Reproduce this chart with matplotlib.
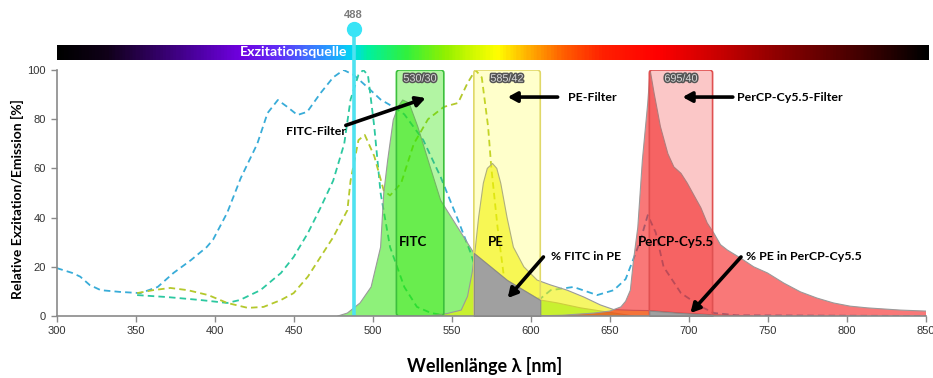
import matplotlib
matplotlib.use('Agg')
import matplotlib.pyplot as plt
import matplotlib.patheffects as pe
from matplotlib.patches import FancyBboxPatch
from matplotlib.colors import LinearSegmentedColormap
import numpy as np

# ---------------------------------------------------------------------------
# Spectra, wavelength in nm, value in %
# ---------------------------------------------------------------------------
percp_ex_wl = [300, 310, 315, 321, 328, 340, 353, 364, 374, 385, 395, 399, 408,
               416.5, 427, 433.5, 440, 446, 452.4, 458.6, 467, 475, 481.6, 488,
               496.7, 505, 513, 520, 532, 543, 554, 562, 566, 575, 587, 606,
               612.6, 627, 642, 652.5, 660, 663, 669, 674, 679, 684, 695, 708,
               716, 730, 850]
percp_ex = [19.5, 17.5, 16, 12.6, 10.5, 9.8, 9.3, 11.8, 17.5, 22.7, 28, 31, 42,
            56, 70, 82.5, 87.8, 85, 81.7, 83, 90.6, 97, 100, 98,
            93, 88, 85, 82, 71.5, 56.5, 39, 25.6, 17.5, 11.8, 9.3, 7,
            10.5, 11.8, 8.5, 10.5, 15, 20, 30, 41, 34, 20, 9.3, 3.7,
            1.2, 0.3, 0]

fitc_ex_wl = [351, 370, 391, 408, 416, 429, 442, 450, 459, 467, 475, 482, 486,
              491, 494, 497, 501, 505, 511, 520, 528, 537, 545, 555]
fitc_ex = [8.5, 7.7, 6.5, 5.3, 6.5, 10.5, 17.5, 24, 33.7, 44, 55, 70, 88,
           98, 100, 98, 77, 50, 28, 11.8, 3.7, 1.2, 0.3, 0]

pe_ex_wl = [351, 361, 372, 383, 396, 408, 421, 431, 442, 450, 459, 467, 475,
            484, 486, 491, 495, 501, 507, 511, 518, 526, 535, 545, 554, 560,
            565, 569, 573, 575, 579, 583, 587, 596, 610]
pe_ex = [9.3, 10.5, 11.4, 10.5, 8.5, 5.3, 3.3, 3.7, 6.5, 9.3, 16, 24, 32,
         43, 55, 71.5, 73.6, 65, 51, 49, 54, 70, 80, 85, 86.6, 94.7,
         100, 97, 77, 60.6, 36, 16, 6.5, 1.2, 0]

fitc_em_wl = [478, 484, 492, 499, 505, 507, 509.5, 513, 516, 519, 523, 528.5,
              535, 543, 553.8, 564, 574.7, 585, 595.6, 606, 617, 631.5, 648.7,
              665]
fitc_em = [0, 1.2, 5.3, 11.8, 28, 50, 63.4, 79.7, 85, 87.8, 86.6, 77,
           63.4, 47, 36, 25.6, 20, 14.6, 10.5, 6.5, 5.3, 3.3, 1.6,
           0]

pe_em_wl = [535, 547, 556, 560, 563, 565, 567, 570, 572.5, 575.8, 578.5, 581,
            585, 589, 595.6, 604, 612.6, 623, 633.6, 644, 652.5, 665, 675,
            695, 715, 740]
pe_em = [0, 1, 2.4, 8, 18, 28, 40, 54, 60, 62, 60, 54,
         40, 28, 20, 14.6, 12.6, 10.5, 7.7, 4.5, 2.6, 2.3, 2.2,
         1.2, 0.5, 0]

percp_em_wl = [600, 620, 640, 650, 657, 660, 663, 665, 667.7, 670.6, 674,
               675.5, 678, 682, 686.7, 690.5, 695, 699, 705, 707.6, 711.6,
               715.8, 720, 724.4, 732.6, 741, 749.7, 760, 770.6, 781, 791.5,
               802, 813, 834, 850]
percp_em = [0, 0.3, 1.2, 2, 3.7, 6, 10.5, 22.7, 36, 63.4, 86.6,
            100, 90.6, 77, 66, 60.6, 58, 54, 47, 44, 37.8,
            33.7, 29, 26.8, 23.6, 20, 17.5, 13.4, 9.8, 7.3, 5.3,
            4, 3.3, 2.4, 2]

# filters: (centre, bandwidth)
filter_names = ['530/30', '585/42', '695/40']
filter_center = [530, 585, 695]
filter_width = [30, 42, 40]

laser_nm = 488

# spectrum bar colour stops
bar_wl = [300, 330, 360, 390, 415, 440, 458, 475, 486, 496, 520, 545, 560,
          578, 598, 620, 645, 680, 725, 765, 810, 851]
bar_col = ['#000000', '#100018', '#300060', '#5000a8', '#7000e0', '#6030f8',
           '#4070ff', '#20a8ff', '#00d8f0', '#00f0a0', '#30f040', '#90f000',
           '#c8f800', '#ffff00', '#ffb000', '#ff6000', '#ff2000', '#ff0000',
           '#c00000', '#800000', '#400000', '#000000']

# ---------------------------------------------------------------------------
W, H = 933, 378
x0_px, y0_px = 56.5, 316       # pixel of (300 nm, 0 %)
px_per_nm = 869.5 / 550
px_per_pct = 246 / 100

bold = ['Lato', 'DejaVu Sans']
plain = ['Liberation Sans', 'DejaVu Sans']

fig = plt.figure(figsize=(W / 100, H / 100), dpi=100)
ax = fig.add_axes([x0_px / W, (H - y0_px) / H, 869.5 / W, 246 / H])
cax = fig.add_axes([x0_px / W, (H - 60) / H, 551 * px_per_nm / W, 15 / H])

# spectrum bar ------------------------------------------------------------
stops = [(w - bar_wl[0]) / (bar_wl[-1] - bar_wl[0]) for w in bar_wl]
cmap = LinearSegmentedColormap.from_list('spec', list(zip(stops, bar_col)))
cax.imshow(np.linspace(0, 1, 600)[None, :], aspect='auto', cmap=cmap,
           extent=[bar_wl[0], bar_wl[-1], 0, 1])
cax.set_xlim(bar_wl[0], bar_wl[-1])
cax.set_axis_off()
cax.text(450, 0.5, 'Exzitationsquelle', color='white', fontsize=10.2,
         fontweight='bold', family=bold, ha='center', va='center')
cax.set_zorder(0)
ax.set_zorder(1)
ax.patch.set_visible(False)

# excitation spectra (dashed) ----------------------------------------------
dash = (0, (3.6, 2.3))
ax.plot(percp_ex_wl, percp_ex, color='#38acd8', lw=1.3, ls=dash, zorder=1)
ax.plot(fitc_ex_wl, fitc_ex, color='#2cc8a0', lw=1.3, ls=dash, zorder=1)
ax.plot(pe_ex_wl, pe_ex, color='#b4c82c', lw=1.3, ls=dash, zorder=1)

# emission spectra (filled) ------------------------------------------------
ax.fill_between(fitc_em_wl, fitc_em, color='#32e70d', alpha=0.55,
                edgecolor='none', zorder=2)
ax.plot(fitc_em_wl, fitc_em, color='#9a9a9a', lw=0.8, zorder=2)
ax.fill_between(pe_em_wl, pe_em, color='#f0f000', alpha=0.6,
                edgecolor='none', zorder=2)
ax.plot(pe_em_wl, pe_em, color='#9a9a9a', lw=0.8, zorder=2)
ax.fill_between(percp_em_wl, percp_em, color='#f51e1e', alpha=0.6,
                edgecolor='none', zorder=2)
ax.plot(percp_em_wl, percp_em, color='#9a9a9a', lw=0.8, zorder=2)

# filters --------------------------------------------------------------------
filt_face = ['#2ae600', '#ffff14', '#f02828']
filt_alpha = [0.36, 0.22, 0.26]
filt_edge = ['#3cc03c', '#e0d868', '#e05050']
for name, c, w, fc, fa, ec in zip(filter_names, filter_center, filter_width,
                                  filt_face, filt_alpha, filt_edge):
    lo = c - w / 2
    box = FancyBboxPatch((lo, 0), w, 100,
                         boxstyle='round,pad=0,rounding_size=1.9',
                         mutation_aspect=px_per_nm / px_per_pct,
                         facecolor=fc, alpha=fa, edgecolor='none', zorder=3)
    ax.add_patch(box)
    edge = FancyBboxPatch((lo, 0), w, 100,
                          boxstyle='round,pad=0,rounding_size=1.9',
                          mutation_aspect=px_per_nm / px_per_pct,
                          facecolor='none', edgecolor=ec, lw=1.2, zorder=3)
    ax.add_patch(edge)
    ax.text(c, 96.5, name, fontsize=7.8, family=plain, color='#d8d8d8',
            ha='center', va='center', zorder=6,
            path_effects=[pe.withStroke(linewidth=2.2, foreground='#555555')])

# spill-over areas (grey) ------------------------------------------------------
fw = np.array(fitc_em_wl)
fm = (fw >= 564) & (fw <= 606)
ax.fill_between(fw[fm], np.array(fitc_em)[fm], color='#a0a0a0',
                edgecolor='#8a8a8a', lw=0.8, zorder=4)
pw = np.array(pe_em_wl)
pm = (pw >= 675) & (pw <= 715)
ax.fill_between(pw[pm], np.array(pe_em)[pm], color='#a0a0a0',
                edgecolor='#8a8a8a', lw=0.8, zorder=4)

# laser line -----------------------------------------------------------------
ax.plot([laser_nm, laser_nm], [0, 116.5], color='#4fe2f0', lw=2.6,
        clip_on=False, zorder=5, solid_capstyle='butt')
ax.plot([laser_nm], [116.5], 'o', ms=10, color='#38e4f6', clip_on=False,
        zorder=5)
ax.text(laser_nm, 122.5, str(laser_nm), fontsize=8, fontweight='bold',
        family=plain, color='#7a7a7a', ha='center', va='center')

# labels and arrows ----------------------------------------------------------
arrow = dict(arrowstyle='-|>,head_length=0.55,head_width=0.3', lw=2.6,
             color='black', shrinkA=0, shrinkB=0)
tkw = dict(fontsize=8.9, fontweight='bold', family=bold, color='black',
           va='center', ha='left', zorder=7)

ax.text(445, 75.2, 'FITC-Filter', **tkw)
ax.annotate('', xy=(533.5, 88.6), xytext=(483, 77.5), arrowprops=arrow,
            zorder=7)
ax.text(623.4, 89, 'PE-Filter', **tkw)
ax.annotate('', xy=(585.4, 89), xytext=(617, 89), arrowprops=arrow, zorder=7)
ax.text(730.4, 89, 'PerCP-Cy5.5-Filter', **tkw)
ax.annotate('', xy=(696, 89), xytext=(727.8, 89), arrowprops=arrow, zorder=7)
ax.text(612.7, 24, '% FITC in PE', **tkw)
ax.annotate('', xy=(585.4, 7.3), xytext=(608, 24), arrowprops=arrow, zorder=7)
ax.text(736, 24, '% PE in PerCP-Cy5.5', **tkw)
ax.annotate('', xy=(701, 1.2), xytext=(733, 24), arrowprops=arrow, zorder=7)

ax.text(516.5, 30, 'FITC', **dict(tkw, fontsize=9.5))
ax.text(572.8, 30, 'PE', **dict(tkw, fontsize=9.5))
ax.text(667.7, 30, 'PerCP-Cy5.5', **dict(tkw, fontsize=9.5))

# axes -----------------------------------------------------------------------
ax.set_xlim(300, 850)
ax.set_ylim(0, 100)
ax.set_xticks(np.arange(300, 851, 50))
ax.set_yticks(np.arange(0, 101, 20))
for s in ['top', 'right']:
    ax.spines[s].set_visible(False)
for s in ['left', 'bottom']:
    ax.spines[s].set_color('#8a8a8a')
    ax.spines[s].set_linewidth(1.2)
    ax.spines[s].set_zorder(6)
ax.tick_params(colors='#8a8a8a', labelcolor='#333333', length=4, width=1,
               labelsize=8)
for lab in ax.get_xticklabels() + ax.get_yticklabels():
    lab.set_family(plain)

fig.text(485 / W, 12 / H, 'Wellenlänge λ [nm]', fontsize=13,
         fontweight='bold', family=bold, ha='center', va='center')
fig.text(17 / W, (H - 199) / H, 'Relative Exzitation/Emission [%]',
         fontsize=10, fontweight='bold', family=bold, rotation=90,
         ha='center', va='center')

fig.savefig('out.png', dpi=100)
